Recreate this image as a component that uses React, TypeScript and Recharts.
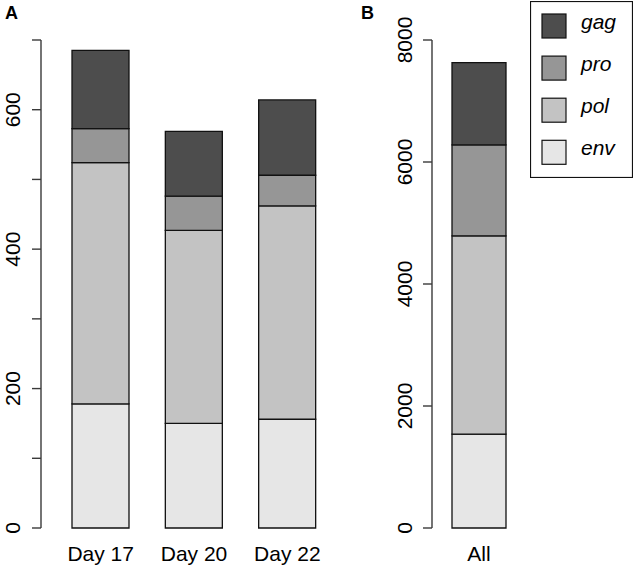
import React from 'react';
import { BarChart, Bar, XAxis, YAxis } from 'recharts';

// panel A: per-day counts
const DAYS = ['Day 17', 'Day 20', 'Day 22'];
const ENV_DAY = [178, 150, 156];
const POL_DAY = [346, 277, 306];
const PRO_DAY = [49, 49, 44];
const GAG_DAY = [112, 93, 108];

// panel B: pooled counts
const ALL_LABEL = ['All'];
const ENV_ALL = [1540];
const POL_ALL = [3250];
const PRO_ALL = [1490];
const GAG_ALL = [1350];

const TICKS_A = [0, 100, 200, 300, 400, 500, 600, 700];
const LABELS_A = [0, 200, 400, 600];
const TICKS_B = [0, 2000, 4000, 6000, 8000];

// stacking order, bottom to top (gray.colors(4) reversed)
const SERIES = [
  { key: 'env', color: '#E6E6E6' },
  { key: 'pol', color: '#C3C3C3' },
  { key: 'pro', color: '#969696' },
  { key: 'gag', color: '#4D4D4D' },
];

const FONT = '"Liberation Sans", Arial, Helvetica, sans-serif';
const AXIS = '#3a3a3a';
const EDGE = '#111';

const dayData = DAYS.map((name, i) => ({
  name,
  env: ENV_DAY[i],
  pol: POL_DAY[i],
  pro: PRO_DAY[i],
  gag: GAG_DAY[i],
}));

const allData = ALL_LABEL.map((name, i) => ({
  name,
  env: ENV_ALL[i],
  pol: POL_ALL[i],
  pro: PRO_ALL[i],
  gag: GAG_ALL[i],
}));

const xTick = (props: any) => (
  <text x={props.x} y={561} textAnchor="middle" fontSize={21} fontFamily={FONT} fill="#000">
    {props.payload.value}
  </text>
);

const yTick = (show: number[] | null, bx: number) => (props: any) => {
  const v = props.payload.value;
  if (show && !show.includes(v)) return <g />;
  return (
    <text
      x={bx}
      y={props.y}
      transform={`rotate(-90, ${bx}, ${props.y})`}
      textAnchor="middle"
      fontSize={21}
      fontFamily={FONT}
      fill="#000"
    >
      {v}
    </text>
  );
};

// legend: gag on top, env at bottom, like the stack
const LegendBox = () => (
  <svg width={103} height={177} style={{ display: 'block' }}>
    <rect x={0.5} y={0.5} width={102} height={176} fill="#fff" stroke={EDGE} strokeWidth={1.2} />
    {[...SERIES].reverse().map((s, i) => (
      <g key={s.key}>
        <rect x={12} y={13 + 42.1 * i} width={24} height={24} fill={s.color} stroke={EDGE} strokeWidth={1.2} />
        <text x={51} y={28 + 42.1 * i} fontSize={21} fontStyle="italic" fontFamily={FONT} fill="#000">
          {s.key}
        </text>
      </g>
    ))}
  </svg>
);

export default function App() {
  return (
    <div style={{ position: 'absolute', left: 0, top: 0, width: 634, height: 567, background: '#fff', fontFamily: FONT }}>
      <div style={{ position: 'absolute', left: 0, top: 0 }}>
        <BarChart width={347} height={567} data={dayData} margin={{ top: 40, right: 0, bottom: 0, left: 0 }} barSize={57}>
          <XAxis
            dataKey="name"
            axisLine={false}
            tickLine={false}
            height={39}
            padding={{ left: 13, right: 13 }}
            tick={xTick}
            interval={0}
          />
          <YAxis
            type="number"
            width={41}
            domain={[0, 700]}
            ticks={TICKS_A}
            interval={0}
            tickSize={9}
            axisLine={{ stroke: AXIS, strokeWidth: 1.4 }}
            tickLine={{ stroke: AXIS, strokeWidth: 1.4 }}
            tick={yTick(LABELS_A, 20)}
          />
          {SERIES.map((s) => (
            <Bar key={s.key} dataKey={s.key} stackId="a" fill={s.color} stroke={EDGE} strokeWidth={1.3} isAnimationActive={false} />
          ))}
        </BarChart>
      </div>
      <div style={{ position: 'absolute', left: 391, top: 0 }}>
        <BarChart width={140} height={567} data={allData} margin={{ top: 40, right: 0, bottom: 0, left: 0 }} barSize={54}>
          <XAxis
            dataKey="name"
            axisLine={false}
            tickLine={false}
            height={39}
            padding={{ left: 5, right: 10 }}
            tick={xTick}
            interval={0}
          />
          <YAxis
            type="number"
            width={41}
            domain={[0, 8000]}
            ticks={TICKS_B}
            interval={0}
            tickSize={9}
            axisLine={{ stroke: AXIS, strokeWidth: 1.4 }}
            tickLine={{ stroke: AXIS, strokeWidth: 1.4 }}
            tick={yTick(null, 21)}
          />
          {SERIES.map((s) => (
            <Bar key={s.key} dataKey={s.key} stackId="a" fill={s.color} stroke={EDGE} strokeWidth={1.3} isAnimationActive={false} />
          ))}
        </BarChart>
      </div>
      <div style={{ position: 'absolute', left: 530, top: 1 }}>
        <LegendBox />
      </div>
      <svg width={634} height={567} style={{ position: 'absolute', left: 0, top: 0, pointerEvents: 'none' }}>
        <text x={5} y={19} fontSize={18} fontWeight="bold" fontFamily={FONT} fill="#000">A</text>
        <text x={361} y={19} fontSize={18} fontWeight="bold" fontFamily={FONT} fill="#000">B</text>
      </svg>
    </div>
  );
}
